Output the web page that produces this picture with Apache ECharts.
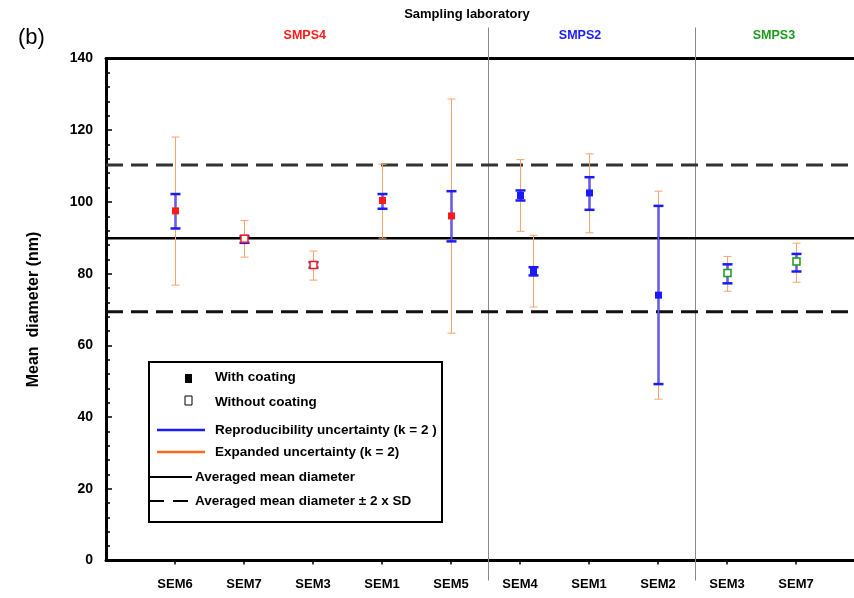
<!DOCTYPE html>
<html>
<head>
<meta charset="utf-8">
<script src="https://cdn.jsdelivr.net/npm/echarts@6/dist/echarts.min.js"></script>
<style>
  html, body { margin: 0; padding: 0; background: #fff; }
  #chart { width: 854px; height: 598px; }
</style>
</head>
<body>
<div id="chart"></div>
<script>
// Instrument (SEM) categories along the x axis, grouped by sampling laboratory
const categories = ['SEM6', 'SEM7', 'SEM3', 'SEM1', 'SEM5', 'SEM4', 'SEM1', 'SEM2', 'SEM3', 'SEM7'];
const labs = ['SMPS4', 'SMPS2', 'SMPS3'];
const labColors = ['#ff1a1a', '#1a1aff', '#1a9a1a'];
const labLabelX = [2.88, 6.87, 9.68];
const labBounds = [5.53, 8.54];

// One entry per measured point
const pointX = [1, 2, 3, 4, 5, 6, 6.19, 7, 8, 9, 10];
const pointLab = [0, 0, 0, 0, 0, 1, 1, 1, 1, 2, 2];
const withCoating = [true, false, false, true, true, true, true, true, true, false, false];
const meanDiameter = [97.5, 89.7, 82.4, 100.4, 96.1, 101.8, 80.6, 102.5, 74.0, 80.2, 83.4];
const repLow = [92.6, 88.6, 81.7, 98.1, 89.0, 100.4, 79.5, 97.8, 49.2, 77.3, 80.6];
const repHigh = [102.2, 90.5, 83.2, 102.2, 103.0, 103.2, 81.8, 106.9, 98.9, 82.6, 85.5];
const expLow = [76.8, 84.6, 78.2, 89.9, 63.4, 91.8, 70.7, 91.4, 45.0, 75.1, 77.6];
const expHigh = [118.1, 94.8, 86.3, 110.5, 128.7, 111.8, 90.7, 113.4, 103.0, 84.8, 88.5];

// Reference levels
const avgMean = 89.85;
const avgUpper = 110.3;
const avgLower = 69.4;

// Axis ranges and ticks
const yMin = 0, yMax = 140, yStep = 20;
const xMin = 0, xMax = 10.84;

const FONT = '"Liberation Sans", Arial, sans-serif';
const BLUE = '#1a1aff';
const ORANGE = '#f8a36a';

const catX = categories.map((_, i) => i + 1);
const points = pointX.map((x, i) => [x, meanDiameter[i], repLow[i], repHigh[i], expLow[i], expHigh[i], withCoating[i] ? 1 : 0, pointLab[i]]);

function renderPoint(params, api) {
  const x = api.value(0);
  const c = api.coord([x, api.value(1)]);
  const rl = api.coord([x, api.value(2)]);
  const rh = api.coord([x, api.value(3)]);
  const el = api.coord([x, api.value(4)]);
  const eh = api.coord([x, api.value(5)]);
  const coated = api.value(6) === 1;
  const lab = api.value(7);
  const px = Math.round(c[0]) + 0.5;
  const children = [];
  const ow = 4, bw = 5;
  // expanded uncertainty
  children.push({ type: 'line', shape: { x1: px, y1: eh[1], x2: px, y2: el[1] }, style: { stroke: ORANGE, lineWidth: 1 } });
  children.push({ type: 'line', shape: { x1: px - ow, y1: eh[1], x2: px + ow, y2: eh[1] }, style: { stroke: ORANGE, lineWidth: 1 } });
  children.push({ type: 'line', shape: { x1: px - ow, y1: el[1], x2: px + ow, y2: el[1] }, style: { stroke: ORANGE, lineWidth: 1 } });
  // reproducibility uncertainty
  children.push({ type: 'line', shape: { x1: px, y1: rh[1], x2: px, y2: rl[1] }, style: { stroke: 'rgba(40,40,255,0.6)', lineWidth: 3 } });
  children.push({ type: 'line', shape: { x1: px - bw, y1: rh[1], x2: px + bw, y2: rh[1] }, style: { stroke: BLUE, lineWidth: 2.5 } });
  children.push({ type: 'line', shape: { x1: px - bw, y1: rl[1], x2: px + bw, y2: rl[1] }, style: { stroke: BLUE, lineWidth: 2.5 } });
  // mean marker
  const s = 7;
  children.push({
    type: 'rect',
    shape: { x: px - s / 2, y: c[1] - s / 2, width: s, height: s },
    style: coated
      ? { fill: labColors[lab], stroke: null }
      : { fill: '#fff', stroke: labColors[lab], lineWidth: 1.5 }
  });
  return { type: 'group', children };
}

function renderLab(params, api) {
  const x = api.value(0);
  const top = api.coord([x, yMax]);
  const bot = api.coord([x, yMin]);
  const px = Math.round(top[0]) + 0.5;
  return {
    type: 'line',
    shape: { x1: px, y1: top[1] - 31, x2: px, y2: bot[1] + 20 },
    style: { stroke: '#8a8a8a', lineWidth: 1 }
  };
}

function renderLabLabel(params, api) {
  const p = api.coord([api.value(0), yMax]);
  const i = params.dataIndex;
  return {
    type: 'text',
    style: {
      x: p[0], y: p[1] - 23, text: labs[i], fill: labColors[i],
      font: 'bold 12.5px ' + FONT, textAlign: 'center', textVerticalAlign: 'middle'
    }
  };
}

const chart = echarts.init(document.getElementById('chart'), null, { renderer: 'canvas' });

const legendX = 149, legendY = 362;
const legendItems = [
  { type: 'rect', shape: { x: legendX + 36, y: legendY + 12, width: 7, height: 9 }, style: { fill: '#000' } },
  { type: 'rect', shape: { x: legendX + 36, y: legendY + 34, width: 7, height: 9 }, style: { fill: '#fff', stroke: '#000', lineWidth: 1 } },
  { type: 'line', shape: { x1: legendX + 8, y1: legendY + 68, x2: legendX + 56, y2: legendY + 68 }, style: { stroke: BLUE, lineWidth: 2.5 } },
  { type: 'line', shape: { x1: legendX + 8, y1: legendY + 90, x2: legendX + 56, y2: legendY + 90 }, style: { stroke: '#ff6a1a', lineWidth: 2.5 } },
  { type: 'line', shape: { x1: legendX, y1: legendY + 115, x2: legendX + 43, y2: legendY + 115 }, style: { stroke: '#000', lineWidth: 2 } },
  { type: 'line', shape: { x1: legendX, y1: legendY + 139, x2: legendX + 15, y2: legendY + 139 }, style: { stroke: '#000', lineWidth: 2 } },
  { type: 'line', shape: { x1: legendX + 24, y1: legendY + 139, x2: legendX + 39, y2: legendY + 139 }, style: { stroke: '#000', lineWidth: 2 } }
];
const legendTexts = [
  ['With coating', legendX + 66, legendY + 15],
  ['Without coating', legendX + 66, legendY + 40],
  ['Reproducibility uncertainty (k = 2 )', legendX + 66, legendY + 68],
  ['Expanded uncertainty (k = 2)', legendX + 66, legendY + 90],
  ['Averaged mean diameter', legendX + 46, legendY + 115],
  ['Averaged mean diameter \u00b1 2 x SD', legendX + 46, legendY + 139]
];

const option = {
  backgroundColor: '#fff',
  animation: false,
  grid: { left: 106, right: 0, top: 58.5, bottom: 37.5, containLabel: false },
  xAxis: [{
    type: 'value', min: xMin, max: xMax,
    axisLine: { show: true, onZero: false, lineStyle: { color: '#000', width: 3 } },
    axisTick: { show: true, length: 4, inside: false, customValues: catX, lineStyle: { color: '#000', width: 1.5 } },
    axisLabel: {
      customValues: catX, margin: 17,
      formatter: v => categories[Math.round(v) - 1] || '',
      color: '#000', fontFamily: FONT, fontWeight: 'bold', fontSize: 13
    },
    splitLine: { show: false }
  }, {
    type: 'value', min: xMin, max: xMax, position: 'top',
    axisLine: { show: true, onZero: false, lineStyle: { color: '#000', width: 3 } },
    axisTick: { show: false }, axisLabel: { show: false }, splitLine: { show: false }
  }],
  yAxis: {
    type: 'value', min: yMin, max: yMax, interval: yStep,
    axisLine: { show: true, lineStyle: { color: '#000', width: 3 } },
    axisTick: { show: true, inside: true, length: 6, lineStyle: { color: '#000', width: 1.5 } },
    minorTick: { show: true, splitNumber: 5, length: 4, lineStyle: { color: '#000', width: 1.5 } },
    axisLabel: { margin: 13, color: '#000', fontFamily: FONT, fontWeight: 'bold', fontSize: 14 },
    splitLine: { show: false },
    name: 'Mean  diameter (nm)', nameLocation: 'middle', nameGap: 64, nameRotate: 90,
    nameTextStyle: { color: '#000', fontFamily: FONT, fontWeight: 'bold', fontSize: 16 }
  },
  series: [
    {
      type: 'custom', name: 'labBounds', clip: false, silent: true,
      data: labBounds.map(x => [x]), renderItem: renderLab, z: 1
    },
    {
      type: 'custom', name: 'labLabels', clip: false, silent: true,
      data: labLabelX.map(x => [x]), renderItem: renderLabLabel, z: 1
    },
    {
      type: 'line', name: 'avgUpper', symbol: 'none', silent: true, z: 2,
      data: [[xMin, avgUpper], [xMax, avgUpper]],
      lineStyle: { color: '#333', width: 3, type: [17, 8] }
    },
    {
      type: 'line', name: 'avgLower', symbol: 'none', silent: true, z: 2,
      data: [[xMin, avgLower], [xMax, avgLower]],
      lineStyle: { color: '#111', width: 3, type: [17, 8] }
    },
    {
      type: 'line', name: 'avgMean', symbol: 'none', silent: true, z: 2,
      data: [[xMin, avgMean], [xMax, avgMean]],
      lineStyle: { color: '#000', width: 2.5 }
    },
    {
      type: 'custom', name: 'points', clip: false, z: 5,
      data: points, renderItem: renderPoint
    }
  ],
  graphic: [
    {
      type: 'text', left: 18, top: 27,
      style: { text: '(b)', font: '22px ' + FONT, fill: '#000' }
    },
    {
      type: 'text', x: 467, y: 14,
      style: { text: 'Sampling laboratory', font: 'bold 13px ' + FONT, fill: '#000', textAlign: 'center', textVerticalAlign: 'middle' }
    },
    {
      type: 'group', z: 100,
      children: [
        { type: 'rect', shape: { x: legendX, y: legendY, width: 293, height: 160 }, style: { fill: '#fff', stroke: '#000', lineWidth: 2 } }
      ].concat(legendItems).concat(legendTexts.map(t => ({
        type: 'text',
        style: { x: t[1], y: t[2], text: t[0], font: 'bold 13.5px ' + FONT, fill: '#000', textVerticalAlign: 'middle' }
      })))
    }
  ]
};

chart.setOption(option);
</script>
</body>
</html>
